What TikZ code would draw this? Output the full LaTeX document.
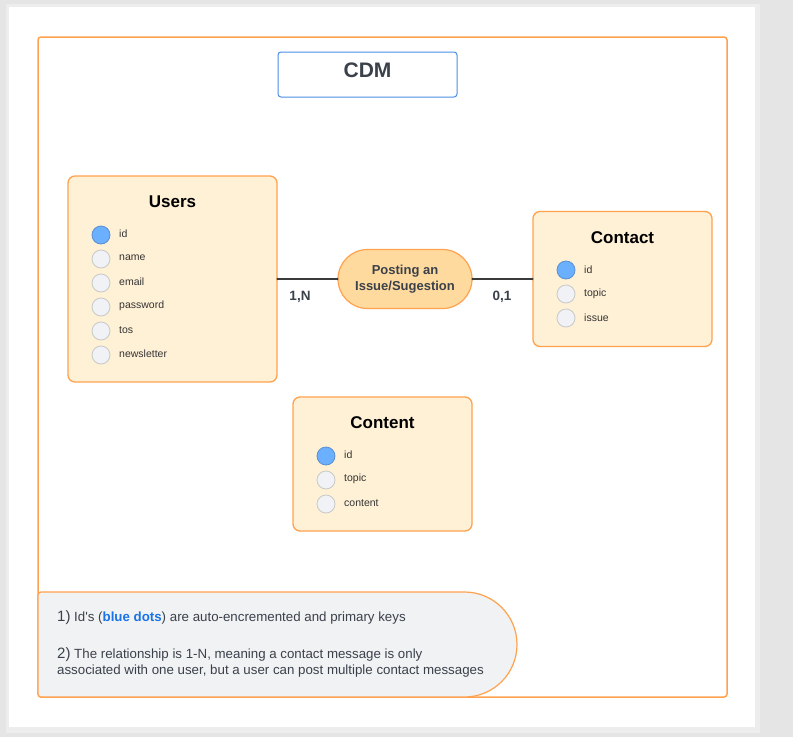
\documentclass[tikz,border=0pt]{standalone}
\usepackage{fontspec}
\setmainfont{Liberation Sans}
\usetikzlibrary{shapes.misc}
\definecolor{bgc}{HTML}{E5E5E5}
\definecolor{orng}{HTML}{FFA24F}
\definecolor{entfill}{HTML}{FFF1D6}
\definecolor{relfill}{HTML}{FFDA9E}
\definecolor{blueb}{HTML}{4A90E2}
\definecolor{dotblue}{HTML}{6AB0FF}
\definecolor{dotblueb}{HTML}{5B8FD0}
\definecolor{dotgray}{HTML}{F0F2F5}
\definecolor{dotgrayb}{HTML}{C8C8C8}
\definecolor{txt}{HTML}{333333}
\definecolor{darktxt}{HTML}{3A414A}
\definecolor{notefill}{HTML}{F1F2F4}
\definecolor{linkc}{HTML}{1A73E8}
\definecolor{linec}{HTML}{3B3B3B}
\tikzset{
  entity/.style={draw=orng, fill=entfill, line width=1.3pt, rounded corners=7pt},
  etitle/.style={font=\fontsize{17}{20}\selectfont\bfseries, text=black},
  pk/.style={circle, draw=dotblueb, fill=dotblue, line width=0.8pt, minimum size=18pt, inner sep=0pt},
  attr/.style={circle, draw=dotgrayb, fill=dotgray, line width=0.8pt, minimum size=18pt, inner sep=0pt},
  alabel/.style={anchor=west, font=\fontsize{10.5}{12}\selectfont, text=txt, inner sep=0pt},
  card/.style={font=\fontsize{13.5}{16}\selectfont\bfseries, text=darktxt},
  link/.style={draw=linec, line width=1.2pt},
}
\begin{document}
\begin{tikzpicture}[x=1pt,y=-1pt]
\useasboundingbox (0,0) rectangle (793,737);
\fill[bgc] (0,0) rectangle (793,737);
\fill[black!12] (8,6) rectangle (758,731);
\fill[black!7] (6,4) rectangle (760,733);
\fill[white] (9,7) rectangle (755,727);
% frame
\draw[orng, line width=1.5pt, rounded corners=3pt] (38,37) rectangle (727,697);
% CDM
\node[draw=blueb, line width=1pt, rounded corners=3pt, minimum width=179pt, minimum height=45pt, inner sep=0pt] (cdm) at (367.5,74.5) {};
\node[font=\fontsize{21}{24}\selectfont\bfseries, text=darktxt] (cdmt) at (367.5,70) {CDM};
% Users
\node[entity, minimum width=209pt, minimum height=206pt, inner sep=0pt] (users) at (172.5,279) {};
\node[etitle] (ut) at (172.5,202) {Users};
\node[pk] (u1) at (101,235) {}; \node[alabel] (u1l) at (119,234) {id};
\node[attr] (u2) at (101,259) {}; \node[alabel] (u2l) at (119,258) {name};
\node[attr] (u3) at (101,283) {}; \node[alabel] (u3l) at (119,282) {email};
\node[attr] (u4) at (101,307) {}; \node[alabel] (u4l) at (119,306) {password};
\node[attr] (u5) at (101,331) {}; \node[alabel] (u5l) at (119,330) {tos};
\node[attr] (u6) at (101,355) {}; \node[alabel] (u6l) at (119,354) {newsletter};
% Contact
\node[entity, minimum width=179pt, minimum height=135pt, inner sep=0pt] (contact) at (622.5,279) {};
\node[etitle] (ct) at (622.5,238) {Contact};
\node[pk] (c1) at (566,270) {}; \node[alabel] (c1l) at (584,270) {id};
\node[attr] (c2) at (566,294) {}; \node[alabel] (c2l) at (584,294) {topic};
\node[attr] (c3) at (566,318) {}; \node[alabel] (c3l) at (584,318) {issue};
% Content
\node[entity, minimum width=179pt, minimum height=134pt, inner sep=0pt] (content) at (382.5,464) {};
\node[etitle] (cot) at (382.5,423) {Content};
\node[pk] (k1) at (326,456) {}; \node[alabel] (k1l) at (344,455) {id};
\node[attr] (k2) at (326,480) {}; \node[alabel] (k2l) at (344,479) {topic};
\node[attr] (k3) at (326,504) {}; \node[alabel] (k3l) at (344,503) {content};
% relationship
\node[draw=orng, fill=relfill, line width=1.2pt, rounded rectangle, minimum width=134pt, minimum height=59pt, inner sep=0pt, align=center, font=\fontsize{13}{16}\selectfont\bfseries, text=darktxt] (rel) at (405,279) {Posting an\\Issue/Sugestion};
\draw[link] (users.east) -- (rel.west);
\draw[link] (rel.east) -- (contact.west);
\fill[linec] (users.east) circle (1.3pt) (rel.west) circle (1.3pt) (rel.east) circle (1.3pt) (contact.west) circle (1.3pt);
\node[card] (c1n) at (300,297) {1,N};
\node[card] (c01) at (502,297) {0,1};
% note
\draw[orng, fill=notefill, line width=1.2pt] (38,694) -- (38,595) arc[start angle=180, end angle=270, radius=3] -- (464.5,592) arc[start angle=-90, end angle=90, radius=52.5] -- (41,697) arc[start angle=90, end angle=180, radius=3] -- cycle;
\node[anchor=west, inner sep=0pt, text=darktxt, font=\fontsize{13.3}{16}\selectfont] (n1) at (57,617.5) {{\fontsize{15}{16}\selectfont 1)} Id\textquotesingle s ({\bfseries\color{linkc}blue dots}) are auto-encremented and primary keys};
\node[anchor=north west, inner sep=0pt, text=darktxt, font=\fontsize{13.3}{16}\selectfont, align=left] (n2) at (57,647) {{\fontsize{15}{16}\selectfont 2)} The relationship is 1-N, meaning a contact message is only\\associated with one user, but a user can post multiple contact messages};
\end{tikzpicture}
\end{document}
